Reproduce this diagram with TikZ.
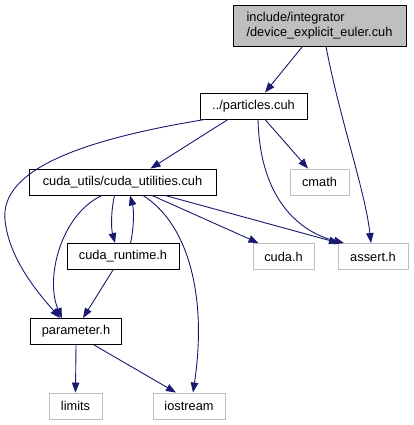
\documentclass[tikz,border=0pt]{standalone}
\usepackage{fontspec}
\setmainfont{Liberation Sans}
\usepackage{tikz}
\usetikzlibrary{
    arrows.meta
}
\definecolor{edgeblue}{HTML}{191970}
\definecolor{boxgray}{HTML}{BFBFBF}

\begin{document}
\begin{tikzpicture}[
        x=1pt, y=-1pt,
        every node/.style={
            font=\fontsize{12.8}{15}\selectfont
        },
        file/.style={
            draw=black,
            fill=white,
            line width=0.9pt,
            inner xsep=10pt,
            minimum height=26pt
        },
        sysfile/.style={
            file,
            draw=boxgray
        },
        edge/.style={
            draw=edgeblue,
            line width=0.9pt,
            -{Triangle[length=10pt,width=7.5pt]}
        }
    ]
    \useasboundingbox (0,0) rectangle (413,425);

    \node[file, fill=boxgray, align=left, minimum width=173pt, minimum height=41pt] (euler) at (319.5,25.5) {
        include/integrator\\
        /device\_explicit\_euler.cuh
    };
    \node[file, minimum width=107pt] (particles) at (253.5,106) {../particles.cuh};
    \node[sysfile, minimum width=59pt] (cmath) at (319.5,182) {cmath};
    \node[file, minimum width=187pt] (cu) at (122.5,182) {cuda\_utils/cuda\_utilities.cuh};
    \node[file, minimum width=112pt] (runtime) at (123,256.5) {cuda\_runtime.h};
    \node[sysfile, minimum width=61pt] (cudah) at (283.5,256.5) {cuda.h};
    \node[sysfile, minimum width=70pt] (assert) at (373,256.5) {assert.h};
    \node[file, minimum width=91pt] (param) at (76,331.5) {parameter.h};
    \node[sysfile, minimum width=53pt] (limits) at (75.5,406) {limits};
    \node[sysfile, minimum width=72pt] (iostream) at (189,406) {iostream};

    \draw[edge] ([xshift=-17pt]euler.south) -- ([xshift=11.5pt]particles.north);
    \draw[edge] ([xshift=6.5pt]euler.south) .. controls (340,120) and (365,190) .. ([xshift=-2pt]assert.north);

    \draw[edge] ([xshift=-25.5pt]particles.south) -- ([xshift=28pt]cu.north);
    \draw[edge] ([xshift=-48.5pt]particles.south) .. controls (80,140) and (0,170) .. (5,220)
        .. controls (9,260) and (40,295) .. ([xshift=-16pt]param.north);
    \draw[edge] ([xshift=11.5pt]particles.south) -- ([xshift=-11.5pt]cmath.north);
    \draw[edge] ([xshift=4.5pt]particles.south) .. controls (260,200) and (300,232) .. ([xshift=-29pt]assert.north);

    \draw[edge] ([xshift=-8pt]cu.south) .. controls (111,210) and (111,228) .. ([xshift=-8pt]runtime.north);
    \draw[edge] ([xshift=7.5pt]runtime.north) .. controls (134,228) and (134,210) .. ([xshift=7.5pt]cu.south);
    \draw[edge] ([xshift=-20.5pt]cu.south) .. controls (60,215) and (45,280) .. ([xshift=-14pt]param.north);
    \draw[edge] ([xshift=20.5pt]cu.south) .. controls (190,225) and (207,300) .. ([xshift=4pt]iostream.north);
    \draw[edge] ([xshift=29.5pt]cu.south) -- ([xshift=-25pt]cudah.north);
    \draw[edge] ([xshift=42.5pt]cu.south) -- ([xshift=-34pt]assert.north);

    \draw[edge] ([xshift=-10pt]runtime.south) -- ([xshift=7pt]param.north);
    \draw[edge] (param.south) -- (limits.north);
    \draw[edge] ([xshift=18pt]param.south) -- ([xshift=-13pt]iostream.north);

\end{tikzpicture}
\end{document}
